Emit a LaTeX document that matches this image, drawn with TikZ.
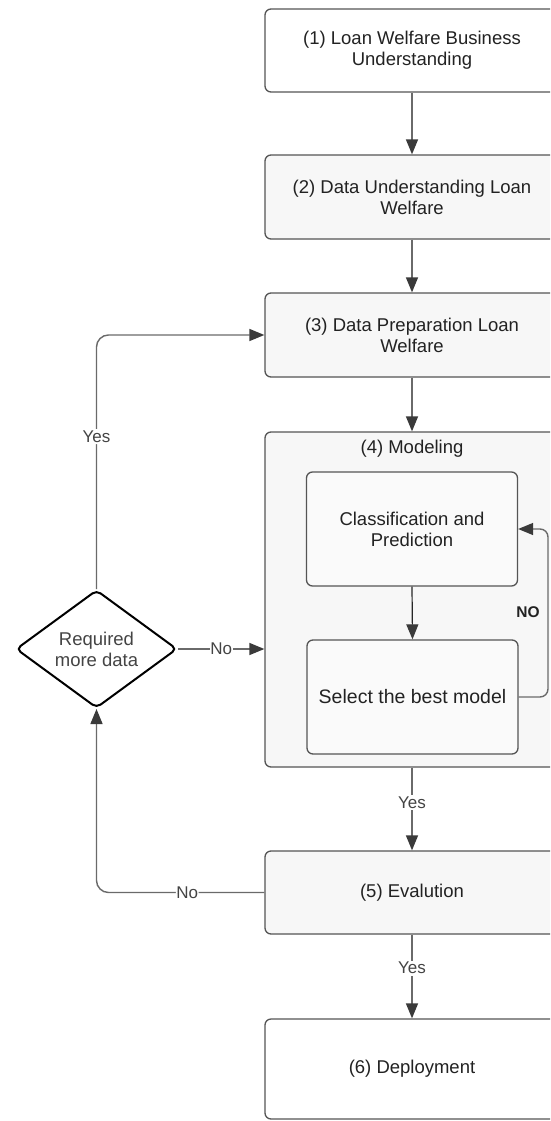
\documentclass[tikz,border=0pt]{standalone}
\usepackage{fontspec}
\setmainfont{Liberation Sans}
\usetikzlibrary{arrows.meta,shapes.geometric,calc}
\definecolor{lineC}{HTML}{6A6A6A}
\definecolor{tipC}{HTML}{3A3A3A}
\definecolor{boxC}{HTML}{555555}
\definecolor{fillC}{HTML}{F7F7F7}
\definecolor{txtC}{HTML}{222222}
\definecolor{lblC}{HTML}{444444}
\begin{document}
\begin{tikzpicture}[x=1pt,y=-1pt,
  font=\fontsize{18.5}{20.8}\selectfont,
  stage/.style={draw=boxC, line width=1.3pt, rounded corners=6pt, fill=fillC,
    text=txtC, align=center, inner sep=0pt, minimum width=294pt},
  inner/.style={draw=boxC, line width=1.3pt, rounded corners=6pt, fill=fillC!60!white,
    text=txtC, align=center, inner sep=0pt, minimum width=211pt, minimum height=114pt},
  flow/.style={draw=lineC, line width=1.4pt,
    -{Triangle[length=15pt,width=12pt,color=tipC]}},
  lbl/.style={fill=white, text=lblC, inner sep=1.5pt, font=\fontsize{17}{19}\selectfont},
  decide/.style={diamond, draw=black, line width=2pt, rounded corners=5pt, fill=white,
    text=lblC, align=center, inner sep=0pt, aspect=1.36,
    minimum width=161pt, minimum height=118pt}]
\clip (0,0) rectangle (550,1121);
\fill[white] (0,0) rectangle (550,1121);

% main stages
\node[stage, fill=white, minimum height=83pt] (s1) at (412,50.5)
  {(1) Loan Welfare Business\\Understanding};
\node[stage, minimum height=84pt] (s2) at (412,197)
  {(2) Data Understanding Loan\\Welfare};
\node[stage, minimum height=84pt] (s3) at (412,335)
  {(3) Data Preparation Loan\\Welfare};
\node[stage, minimum height=335pt] (s4) at (412,599.5) {};
\node[text=txtC] (s4t) at (412,449) {(4) Modeling};
\node[inner] (cls) at (412,529) {Classification and\\Prediction};
\node[inner, font=\fontsize{19.5}{22}\selectfont] (sel) at (412.5,697) {Select the best model};
\node[stage, minimum height=83pt] (s5) at (412,892.5) {(5) Evalution};
\node[stage, fill=white, minimum height=100pt] (s6) at (412,1069) {(6) Deployment};

% decision
\node[decide] (dec) at (96.5,649) {Required\\more data};

% straight flow
\draw[flow] (s1.south) -- (s2.north);
\draw[flow] (s2.south) -- (s3.north);
\draw[flow] (s3.south) -- (s4.north);
\draw[flow] (s4.south) -- node[lbl, pos=0.42] {Yes} (s5.north);
\draw[flow] (s5.south) -- node[lbl, pos=0.4] {Yes} (s6.north);
\draw[flow, draw=black!85, line width=1.2pt] (cls.south) -- (sel.north);

% inner retry loop
\coordinate (loopR) at (548,697);
\draw[flow, rounded corners=8pt] (sel.east) -- (loopR) |- (cls.east);
\node[font=\bfseries\fontsize{15.5}{17}\selectfont, text=txtC] (nolbl) at (528,612) {NO};

% decision branches
\draw[flow] (dec.east) -- node[lbl, inner sep=0.5pt] {No} (dec.east -| s4.west);
\coordinate (upC) at (dec.north |- s3.west);
\draw[flow, rounded corners=12pt] (dec.north) -- node[lbl, pos=0.6] {Yes} (upC) -- (s3.west);
\coordinate (dnC) at (dec.south |- s5.west);
\draw[flow, rounded corners=12pt] (s5.west) -- node[lbl, pos=0.46, inner sep=0.5pt] {No} (dnC) -- (dec.south);
\end{tikzpicture}
\end{document}
